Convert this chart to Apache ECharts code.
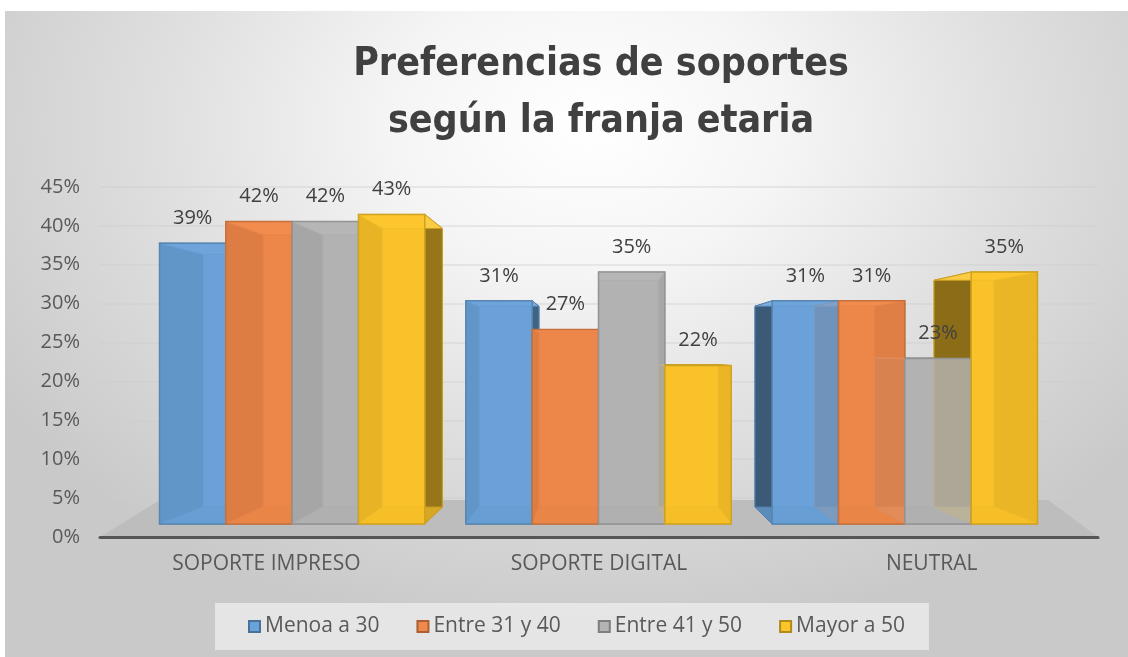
<!DOCTYPE html>
<html>
<head>
<meta charset="utf-8">
<script src="https://cdn.jsdelivr.net/npm/echarts@6/dist/echarts.min.js"></script>
<style>
html, body { margin: 0; padding: 0; background: #ffffff; }
#frame {
    position: absolute; left: 5px; top: 11px; width: 1123px; height: 646px;
    background: radial-gradient(ellipse 62% 80% at 52% 18%, #ffffff 0%, #f5f5f5 28%, #e0e0e0 60%, #c9c9c9 100%);
}
#chart { position: absolute; left: 0; top: 0; width: 1128px; height: 657px; }
</style>
</head>
<body>
<div id="frame"></div>
<div id="chart"></div>
<script>
// categorías y series
const categories = ['SOPORTE IMPRESO', 'SOPORTE DIGITAL', 'NEUTRAL'];
const ageGroups = ['Menoa a 30', 'Entre 31 y 40', 'Entre 41 y 50', 'Mayor a 50'];
const menorA30 = [0.39, 0.31, 0.31];
const entre31y40 = [0.42, 0.27, 0.31];
const entre41y50 = [0.42, 0.35, 0.23];
const mayorA50 = [0.43, 0.22, 0.35];
const seriesValues = [menorA30, entre31y40, entre41y50, mayorA50];
const colors = ['#6aa3da', '#f0894a', '#b4b4b4', '#fcc52a'];

// perspectiva de las barras 3D
const VP = [600, 355];
const DEPTH = 0.9;

function shade(hex, f) {
    const n = parseInt(hex.slice(1), 16);
    const r = (n >> 16) & 255, g = (n >> 8) & 255, b = n & 255;
    const m = (v) => f <= 1 ? Math.round(v * f) : Math.round(v + (255 - v) * (f - 1));
    return 'rgb(' + m(r) + ',' + m(g) + ',' + m(b) + ')';
}
function alpha(hex, a) {
    const n = parseInt(hex.slice(1), 16);
    return 'rgba(' + ((n >> 16) & 255) + ',' + ((n >> 8) & 255) + ',' + (n & 255) + ',' + a + ')';
}

function renderBar(params, api) {
    const s = params.seriesIndex;
    const cat = api.value(0);
    const val = api.value(1);
    const top = api.coord([cat, val]);
    const base = api.coord([cat, 0]);
    const band = api.size([1, 0])[0];
    const w = band * 0.866 / 4;
    const x1 = top[0] - 2 * w + s * w, x2 = x1 + w;
    const y1 = top[1], y2 = base[1];
    const back = (x, y) => [VP[0] + DEPTH * (x - VP[0]), VP[1] + DEPTH * (y - VP[1])];
    const b1 = back(x1, y1), b2 = back(x2, y2);
    const c = colors[s];
    const edge = shade(c, 0.8);
    const poly = (pts, fill, z2) => ({
        type: 'polygon', z2: z2,
        shape: { points: pts },
        style: { fill: fill, stroke: edge, lineWidth: 1 }
    });
    return {
        type: 'group',
        children: [
            {
                type: 'rect', z2: 1,
                shape: { x: b1[0], y: b1[1], width: b2[0] - b1[0], height: b2[1] - b1[1] },
                style: { fill: shade(c, 0.93), stroke: edge, lineWidth: 1 }
            },
            poly([[x1, y1], [b1[0], b1[1]], [b1[0], b2[1]], [x1, y2]], shade(c, 0.55), 2),
            poly([[x2, y1], [b2[0], b1[1]], [b2[0], b2[1]], [x2, y2]], shade(c, 0.6), 2),
            poly([[x1, y1], [x2, y1], [b2[0], b1[1]], [b1[0], b1[1]]], shade(c, 1.12), 2),
            poly([[x1, y2], [x2, y2], [b2[0], b2[1]], [b1[0], b2[1]]], shade(c, 0.85), 2),
            {
                type: 'rect', z2: 5,
                shape: { x: x1, y: y1, width: w, height: y2 - y1 },
                style: { fill: alpha(c, 0.82), stroke: shade(c, 0.82), lineWidth: 1.5 }
            },
            {
                type: 'text', z2: 10,
                x: (x1 + x2) / 2, y: y1 - 25,
                style: {
                    text: Math.round(val * 100) + '%',
                    fill: '#404040', font: '20px "Open Sans"',
                    align: 'center', verticalAlign: 'middle'
                }
            }
        ]
    };
}

const chart = echarts.init(document.getElementById('chart'));

const option = {
    backgroundColor: 'transparent',
    animation: false,
    textStyle: { fontFamily: '"Open Sans", sans-serif' },
    title: {
        text: 'Preferencias de soportes\nsegún la franja etaria',
        left: 596, top: 31, textAlign: 'center',
        textStyle: {
            fontFamily: '"DejaVu Sans Condensed", sans-serif',
            fontWeight: 'bold', fontSize: 39, lineHeight: 57, color: '#404040'
        }
    },
    legend: {
        data: ageGroups,
        left: 215, top: 603,
        padding: [13, 24, 13, 33],
        backgroundColor: 'rgba(238,238,238,0.75)',
        icon: 'rect', itemWidth: 11, itemHeight: 11, itemGap: 37,
        textStyle: { fontSize: 21, color: '#595959', fontFamily: '"Open Sans"' }
    },
    graphic: [{
        type: 'polygon', z: -1,
        shape: { points: [[100, 537], [160, 500], [1048, 500], [1098, 537]] },
        style: { fill: '#bdbdbd' }
    }],
    grid: [
        { left: 100, right: 30, top: 187, bottom: 120 },
        { left: 139, right: 70, top: 200, bottom: 133 }
    ],
    xAxis: [
        {
            type: 'category', gridIndex: 0, data: categories,
            axisLine: { lineStyle: { color: '#555555', width: 3 } },
            axisTick: { show: false },
            axisLabel: { fontSize: 21, color: '#595959', margin: 17 }
        },
        {
            type: 'category', gridIndex: 1, data: categories,
            show: false
        }
    ],
    yAxis: [
        {
            type: 'value', gridIndex: 0, min: 0, max: 0.45, interval: 0.05,
            axisLine: { show: false }, axisTick: { show: false },
            axisLabel: {
                fontSize: 20, color: '#595959', margin: 20,
                formatter: (v) => Math.round(v * 100) + '%'
            },
            splitLine: { lineStyle: { color: 'rgba(205,205,205,0.5)', width: 1.5 } }
        },
        {
            type: 'value', gridIndex: 1, min: 0, max: 0.45, show: false,
            splitLine: { show: false }
        }
    ],
    series: seriesValues.map((vals, s) => ({
        name: ageGroups[s],
        type: 'custom',
        xAxisIndex: 1, yAxisIndex: 1,
        itemStyle: { color: colors[s], borderColor: shade(colors[s], 0.7), borderWidth: 1 },
        renderItem: renderBar,
        encode: { x: 0, y: 1 },
        data: vals.map((v, i) => [i, v])
    }))
};

chart.setOption(option);
</script>
</body>
</html>
